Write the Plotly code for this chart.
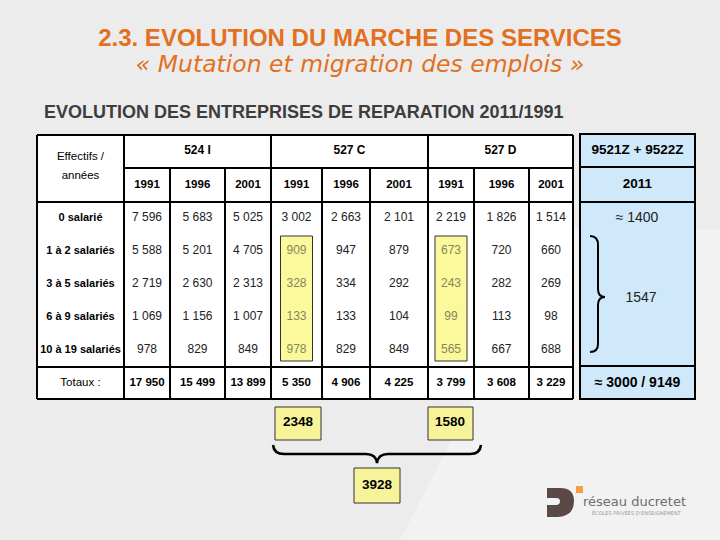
import plotly.graph_objects as go

# ---------------- data ----------------
groups = ["524 I", "527 C", "527 D"]
years = ["1991", "1996", "2001"]
row_labels = ["0 salarié", "1 à 2 salariés", "3 à 5 salariés", "6 à 9 salariés", "10 à 19 salariés"]
vals_524I = [[7596, 5683, 5025], [5588, 5201, 4705], [2719, 2630, 2313], [1069, 1156, 1007], [978, 829, 849]]
vals_527C = [[3002, 2663, 2101], [909, 947, 879], [328, 334, 292], [133, 133, 104], [978, 829, 849]]
vals_527D = [[2219, 1826, 1514], [673, 720, 660], [243, 282, 269], [99, 113, 98], [565, 667, 688]]
totals_524I = [17950, 15499, 13899]
totals_527C = [5350, 4906, 4225]
totals_527D = [3799, 3608, 3229]
col_2011_header = ["9521Z + 9522Z", "2011"]
col_2011_values = ["≈ 1400", "1547", "≈ 3000 / 9149"]
sum_boxes = [2348, 1580]
sum_total = 3928

title = "2.3. EVOLUTION DU MARCHE DES SERVICES"
subtitle = "« Mutation et migration des emplois »"
section = "EVOLUTION DES ENTREPRISES DE REPARATION 2011/1991"

# ---------------- layout geometry ----------------
SANS = "Liberation Sans, Arial, sans-serif"
col_edges = [124, 170, 225, 271, 322, 370, 428, 474, 529, 573]
tab_left, tab_top, tab_mid, tab_yr, tab_tot, tab_bot = 37, 135, 168, 202, 367, 399
row_y = [218, 251, 284, 317, 350]
tot_y = 383
label_x = (tab_left + col_edges[0]) / 2
col_x = [(col_edges[i] + col_edges[i + 1]) / 2 for i in range(9)]

def fmt(v):
    return f"{v:,}".replace(",", " ")

fig = go.Figure()
shapes = []

# background streak
shapes.append(dict(type="path", path="M 400,540 L 560,230 L 720,230 L 720,540 Z",
                   fillcolor="rgba(255,255,255,0.35)", line=dict(width=0), layer="below"))
# table background
shapes.append(dict(type="rect", x0=tab_left, x1=col_edges[-1], y0=tab_top, y1=tab_bot,
                   fillcolor="white", line=dict(width=0), layer="below"))
# highlighted columns (527C 1991 and 527D 1991, rows 2-5)
for ci in (3, 6):
    shapes.append(dict(type="rect", x0=col_x[ci] - 16, x1=col_x[ci] + 16, y0=236, y1=361,
                       fillcolor="#fbf99c", line=dict(color="#333333", width=1), layer="below"))

LW = 2
def hline(y, x0, x1, w=LW):
    shapes.append(dict(type="line", x0=x0, x1=x1, y0=y, y1=y, line=dict(color="black", width=w)))
def vline(x, y0, y1, w=LW):
    shapes.append(dict(type="line", x0=x, x1=x, y0=y0, y1=y1, line=dict(color="black", width=w)))

hline(tab_top, tab_left, col_edges[-1])
hline(tab_mid, col_edges[0], col_edges[-1])
hline(tab_yr, tab_left, col_edges[-1])
hline(tab_tot, tab_left, col_edges[-1])
hline(tab_bot, tab_left, col_edges[-1])
for x in [tab_left, col_edges[0], col_edges[3], col_edges[6], col_edges[9]]:
    vline(x, tab_top, tab_bot)
for x in [col_edges[1], col_edges[2], col_edges[4], col_edges[5], col_edges[7], col_edges[8]]:
    vline(x, tab_mid, tab_bot)

# 2011 blue column
bx0, bx1 = 580, 695
shapes.append(dict(type="rect", x0=bx0, x1=bx1, y0=134, y1=399, fillcolor="#cfe9fa",
                   line=dict(color="black", width=LW), layer="below"))
hline(167, bx0, bx1)
hline(202, bx0, bx1)
hline(366, bx0, bx1)

# right brace
shapes.append(dict(type="path",
                   path="M 590,236 Q 598,236 598,245 L 598,289 Q 598,297 605,297 "
                        "Q 598,297 598,305 L 598,344 Q 598,352 590,352",
                   line=dict(color="black", width=2)))

# bottom boxes
bottom_boxes = [(275, 321, 407, 440), (428, 473, 407, 440), (354, 400, 468, 503)]
for (x0, x1, y0, y1) in bottom_boxes:
    shapes.append(dict(type="rect", x0=x0, x1=x1, y0=y0, y1=y1, fillcolor="#f7f39a",
                       line=dict(color="#333333", width=1), layer="below"))
# bottom brace
shapes.append(dict(type="path",
                   path="M 273,445 Q 274,454 284,454 L 366,454 Q 376,454 377,463 "
                        "Q 378,454 388,454 L 470,454 Q 480,454 481,445",
                   line=dict(color="black", width=2.5)))

# logo shapes
shapes.append(dict(type="path",
                   path="M 547,488 L 560,488 Q 574,488 574,501 Q 574,516 558,517 L 547,517 L 547,505 "
                        "L 556,505 Q 560,505 560,501 Q 560,498 556,498 L 547,498 Z",
                   fillcolor="#5a4944", line=dict(width=0)))
shapes.append(dict(type="rect", x0=576, x1=583, y0=486, y1=493, fillcolor="#f0a040", line=dict(width=0)))

def add_text(xs, ys, texts, size=11, color="black", family=SANS, pos="middle center"):
    fig.add_trace(go.Scatter(x=xs, y=ys, text=texts, mode="text", hoverinfo="skip",
                             textfont=dict(size=size, color=color, family=family),
                             textposition=pos, showlegend=False))

# headers
add_text([label_x, label_x], [157, 176], ["Effectifs /", "années"], size=11.5)
group_x = [(col_edges[3 * g] + col_edges[3 * g + 3]) / 2 for g in range(3)]
add_text(group_x, [151] * 3, [f"<b>{g}</b>" for g in groups], size=12)
add_text(col_x, [185] * 9, [f"<b>{y}</b>" for y in years * 3], size=11.5)

# row labels
add_text([label_x] * len(row_labels), row_y, [f"<b>{r}</b>" for r in row_labels], size=11)
add_text([label_x], [tot_y], ["Totaux :"], size=11.5)

# values
all_vals = [vals_524I, vals_527C, vals_527D]
xs, ys, ts, hx, hy, ht = [], [], [], [], [], []
for g, block in enumerate(all_vals):
    for r, row in enumerate(block):
        for c, v in enumerate(row):
            ci = 3 * g + c
            if c == 0 and g > 0 and r > 0:
                hx.append(col_x[ci]); hy.append(row_y[r]); ht.append(fmt(v))
            else:
                xs.append(col_x[ci]); ys.append(row_y[r]); ts.append(fmt(v))
add_text(xs, ys, ts, size=12, color="#222222")
add_text(hx, hy, ht, size=12, color="#86865a")

tots = totals_524I + totals_527C + totals_527D
add_text(col_x, [tot_y] * 9, [f"<b>{fmt(t)}</b>" for t in tots], size=11.5)

# 2011 column
bxc = (bx0 + bx1) / 2
add_text([bxc, bxc], [151, 185], [f"<b>{h}</b>" for h in col_2011_header], size=13.5)
add_text([637, 641], [218, 298], col_2011_values[:2], size=14, color="#222222")
add_text([bxc], [383], [f"<b>{col_2011_values[2]}</b>"], size=14)

# bottom boxes text
add_text([298, 450, 377], [423, 423, 486], [f"<b>{sum_boxes[0]}</b>", f"<b>{sum_boxes[1]}</b>",
                                             f"<b>{sum_total}</b>"], size=13.5)

# titles
add_text([360], [40], [f"<b>{title}</b>"], size=24, color="#e2701e")
add_text([360], [66], [f"<i>{subtitle}</i>"], size=23.5, color="#e2701e",
         family="DejaVu Sans, sans-serif")
add_text([44], [113], [f"<b>{section}</b>"], size=18, color="#3d3d3d", pos="middle right")

# logo text
add_text([583], [503], ["réseau ducretet"], size=13, color="#6e6e6e",
         family="DejaVu Sans, sans-serif", pos="middle right")
add_text([592], [514], ["ÉCOLES PRIVÉES D'ENSEIGNEMENT"], size=5, color="#9a9a9a",
         family="DejaVu Sans, sans-serif", pos="middle right")

fig.update_layout(
    width=720, height=540, margin=dict(l=0, r=0, t=0, b=0),
    paper_bgcolor="#ececec", plot_bgcolor="#ececec",
    xaxis=dict(range=[0, 720], visible=False, fixedrange=True),
    yaxis=dict(range=[540, 0], visible=False, fixedrange=True),
    shapes=shapes,
)
fig.write_html("out.html", config={"displayModeBar": False},
               post_script="document.body.style.margin='0px';document.body.style.padding='0px';")
